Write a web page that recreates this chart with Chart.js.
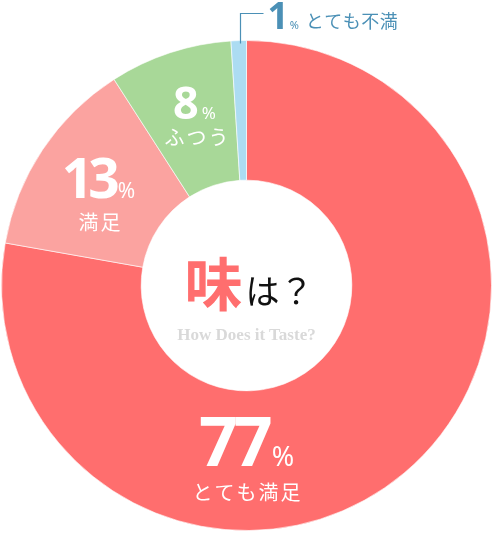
<!DOCTYPE html>
<html><head><meta charset="utf-8">
<script src="https://cdn.jsdelivr.net/npm/chart.js@4.4.0/dist/chart.umd.min.js"></script>
<style>html,body{margin:0;padding:0;background:#fff;}#wrap{width:495px;height:535px;position:relative;}
#sub{position:absolute;width:200px;text-align:center;font:bold 17px/17px "Liberation Serif",serif;color:#d9d9d9;white-space:nowrap;}</style>
</head><body><div id="wrap"><canvas id="c" width="495" height="535"></canvas><div id="sub"></div></div>
<script>
const categories = ['とても満足', '満足', 'ふつう', 'とても不満'];
const values = [77, 13, 8, 1];
const valueLabels = ['77', '13', '8', '1'];
const percentSign = '%';
const centerTitle = '味';
const centerTitleRest = 'は？';
const centerSub = 'How Does it Taste?';
const colors = ['#ff6e6e', '#fba3a0', '#a8d898', '#acdcf2'];

// label styles: offsets from the doughnut centre (px), font sizes
const labelStyles = [
  {dx: 0, dy: 180, num: 68, pct: 27, txtDy: 207, txt: 20, spacing: -4},
  {dx: -148, dy: -88, num: 55, pct: 21, txtDy: -63, txtDx: -147, txt: 20, spacing: -5},
  {dx: -52, dy: -167, num: 45, pct: 17, txtDy: -148, txtDx: -50, txt: 20, spacing: 0}
];

const labelPlugin = {
  id: 'labels',
  afterDatasetsDraw(chart) {
    const ctx = chart.ctx;
    const meta = chart.getDatasetMeta(0);
    const arc0 = meta.data[0];
    const cx = arc0.x, cy = arc0.y;
    ctx.save();
    labelStyles.forEach((s, i) => {
      const numFont = `bold ${s.num}px "Noto Sans", sans-serif`;
      const pctFont = `${s.pct}px "Noto Sans", sans-serif`;
      ctx.fillStyle = '#fff';
      ctx.textBaseline = 'alphabetic';
      ctx.textAlign = 'left';
      ctx.font = numFont;
      ctx.letterSpacing = s.spacing + 'px';
      const wN = ctx.measureText(valueLabels[i]).width;
      ctx.letterSpacing = '0px';
      ctx.font = pctFont;
      const wP = ctx.measureText(percentSign).width;
      const gap = 3;
      const total = wN + gap + wP;
      const bx = cx + s.dx - total / 2;
      const by = cy + s.dy;
      ctx.font = numFont;
      ctx.letterSpacing = s.spacing + 'px';
      ctx.fillText(valueLabels[i], bx, by);
      ctx.letterSpacing = '0px';
      ctx.font = pctFont;
      ctx.fillText(percentSign, bx + wN + gap, by);
      ctx.font = `${s.txt}px "Noto Sans CJK JP", sans-serif`;
      ctx.letterSpacing = '2px';
      ctx.textAlign = 'center';
      ctx.textBaseline = 'middle';
      ctx.fillText(categories[i], cx + (s.txtDx || s.dx) + 1, cy + s.txtDy);
      ctx.letterSpacing = '0px';
    });
    // annotation for the smallest slice
    const a = meta.data[3];
    const mid = (a.startAngle + a.endAngle) / 2;
    const lx = Math.round(cx + Math.cos(mid) * a.outerRadius) + 1.5;
    const ly0 = cy + Math.sin(mid) * a.outerRadius + 3;
    const lyTop = 13.5;
    ctx.strokeStyle = '#4b90b6';
    ctx.lineWidth = 1.2;
    ctx.beginPath();
    ctx.moveTo(lx, ly0);
    ctx.lineTo(lx, lyTop);
    ctx.lineTo(lx + 23, lyTop);
    ctx.stroke();
    ctx.fillStyle = '#4b90b6';
    ctx.textAlign = 'left';
    ctx.textBaseline = 'alphabetic';
    ctx.font = 'bold 37px "Noto Sans", sans-serif';
    const x1 = lx + 27;
    ctx.fillText(valueLabels[3], x1, 29);
    const w1 = ctx.measureText(valueLabels[3]).width;
    ctx.font = '11px "Noto Sans", sans-serif';
    ctx.fillText(percentSign, x1 + w1 + 1, 29);
    ctx.font = '18px "Noto Sans CJK JP", sans-serif';
    ctx.letterSpacing = '0.5px';
    ctx.textBaseline = 'middle';
    ctx.fillText(categories[3], x1 + w1 + 17, 21.5);
    ctx.letterSpacing = '0px';
    // centre title
    ctx.textBaseline = 'alphabetic';
    ctx.font = 'bold 58px "Noto Sans CJK JP", sans-serif';
    const wT = ctx.measureText(centerTitle).width;
    const tx = cx - 62;
    ctx.fillStyle = '#ff6e6e';
    ctx.fillText(centerTitle, tx, cy + 20);
    ctx.font = '34px "Noto Sans CJK JP", sans-serif';
    ctx.fillStyle = '#111';
    ctx.fillText(centerTitleRest, tx + wT + 3, cy + 18);
    ctx.restore();
    // centre subtitle as page text
    const sub = document.getElementById('sub');
    sub.textContent = centerSub;
    sub.style.left = (cx - 100) + 'px';
    sub.style.top = (cy + 40) + 'px';
  }
};

new Chart(document.getElementById('c'), {
  type: 'doughnut',
  data: {
    labels: categories,
    datasets: [{
      data: values,
      backgroundColor: colors,
      borderColor: 'rgba(255,255,255,0.6)',
      borderWidth: 1
    }]
  },
  options: {
    responsive: false,
    animation: false,
    cutout: '43%',
    layout: {padding: {left: 1, right: 3, top: 40, bottom: 4}},
    plugins: {legend: {display: false}, tooltip: {enabled: false}}
  },
  plugins: [labelPlugin]
});
</script></body></html>
